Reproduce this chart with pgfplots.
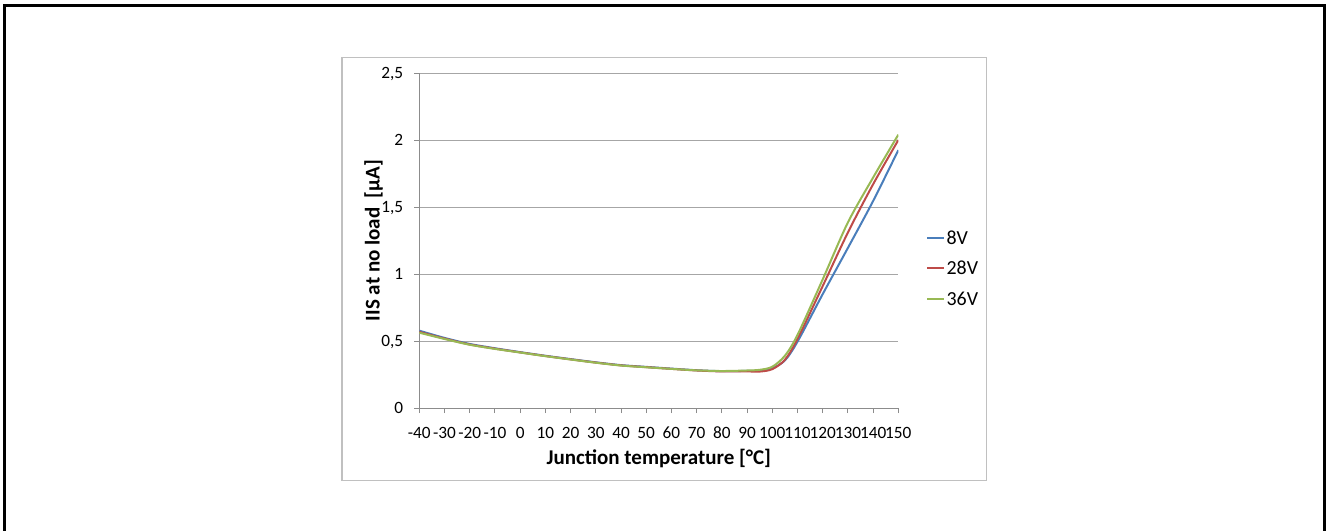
\documentclass[border=0pt]{standalone}
\usepackage{fontspec}
\setmainfont{Carlito}
\usepackage{pgfplots}
\pgfplotsset{compat=1.18}
\definecolor{c8}{HTML}{4A7EBB}
\definecolor{c28}{HTML}{BE4B48}
\definecolor{c36}{HTML}{98B954}
\definecolor{axgray}{HTML}{8C8C8C}
\definecolor{grgray}{HTML}{A6A6A6}
\definecolor{brdgray}{HTML}{C0C0C0}
\begin{document}
\begin{tikzpicture}
\useasboundingbox (0,0) rectangle (996bp,-398.25bp);
\draw[line width=2.25bp] (3.375bp,-398.25bp) -- (3.375bp,-4.125bp) -- (993.375bp,-4.125bp) -- (993.375bp,-398.25bp);
\draw[draw=brdgray, line width=1bp] (256.5bp,-43bp) rectangle (740bp,-360.2bp);
\begin{axis}[
  at={(314.5bp,-306bp)}, anchor=south west,
  scale only axis, width=359.25bp, height=251.25bp,
  xmin=-40, xmax=150, ymin=0, ymax=2.5,
  axis x line*=bottom, axis y line*=left,
  axis line style={draw=axgray, line width=0.75bp, -},
  xtick={-40,-30,...,150},
  xticklabels={-40,-30,-20,-10,0,10,20,30,40,50,60,70,80,90,100,110,120,130,140,150},
  ytick={0,0.5,1,1.5,2,2.5},
  yticklabels={0,{0,5},1,{1,5},2,{2,5}},
  tick align=outside, major tick length=3.75bp,
  tick style={draw=axgray, line width=0.75bp},
  ymajorgrids, grid style={draw=grgray, line width=0.75bp},
  ticklabel style={font=\fontsize{13}{15}\selectfont},
  xticklabel style={anchor=north, inner sep=0pt, text height=8.2pt, text depth=0pt, yshift=-11bp},
  yticklabel style={anchor=east, inner sep=0pt, text height=8.2pt, text depth=0pt, xshift=-8.25bp},
  xlabel={Junction temperature [°C]},
  ylabel={IIS at no load\ \ [µA]},
  label style={font=\fontsize{15.8}{19}\selectfont\bfseries},
  xlabel style={at={(axis description cs:0.5,0)}, anchor=base, yshift=-42.2bp},
  ylabel style={at={(axis description cs:-0.083,0.5)}, anchor=base},
  legend style={at={(axis description cs:1.0578,0.5266)}, anchor=north west,
    draw=none, fill=none, inner sep=0pt, outer sep=0pt,
    row sep=13.1bp, column sep=1.2bp,
    font=\fontsize{15}{18}\selectfont,
    nodes={inner sep=0pt, outer sep=0pt, text height=9.7bp, text depth=0pt}},
  legend cell align=left,
  legend image code/.code={\draw[#1] (0bp,0bp) -- (12.75bp,0bp);},
  every axis plot/.append style={line width=1.5bp, smooth, no markers},
]
\addplot[c8] coordinates {
(-40,0.577) (-30,0.523) (-20,0.478) (-10,0.446) (0,0.417) (10,0.390) (20,0.365) (30,0.341)
(40,0.320) (50,0.307) (60,0.294) (70,0.282) (80,0.275) (90,0.277) (95,0.280) (100,0.297)
(105,0.355) (110,0.495) (120,0.850) (130,1.195) (140,1.545) (150,1.925)};
\addlegendentry{8V}
\addplot[c28] coordinates {
(-40,0.568) (-30,0.518) (-20,0.474) (-10,0.443) (0,0.415) (10,0.388) (20,0.363) (30,0.339)
(40,0.318) (50,0.305) (60,0.292) (70,0.280) (80,0.273) (90,0.273) (95,0.272) (100,0.290)
(105,0.360) (110,0.515) (120,0.910) (130,1.310) (140,1.670) (150,2.000)};
\addlegendentry{28V}
\addplot[c36] coordinates {
(-40,0.562) (-30,0.515) (-20,0.472) (-10,0.441) (0,0.414) (10,0.387) (20,0.362) (30,0.338)
(40,0.317) (50,0.304) (60,0.292) (70,0.281) (80,0.276) (90,0.280) (95,0.285) (100,0.308)
(105,0.390) (110,0.545) (120,0.960) (130,1.385) (140,1.720) (150,2.040)};
\addlegendentry{36V}
\end{axis}
\end{tikzpicture}
\end{document}
